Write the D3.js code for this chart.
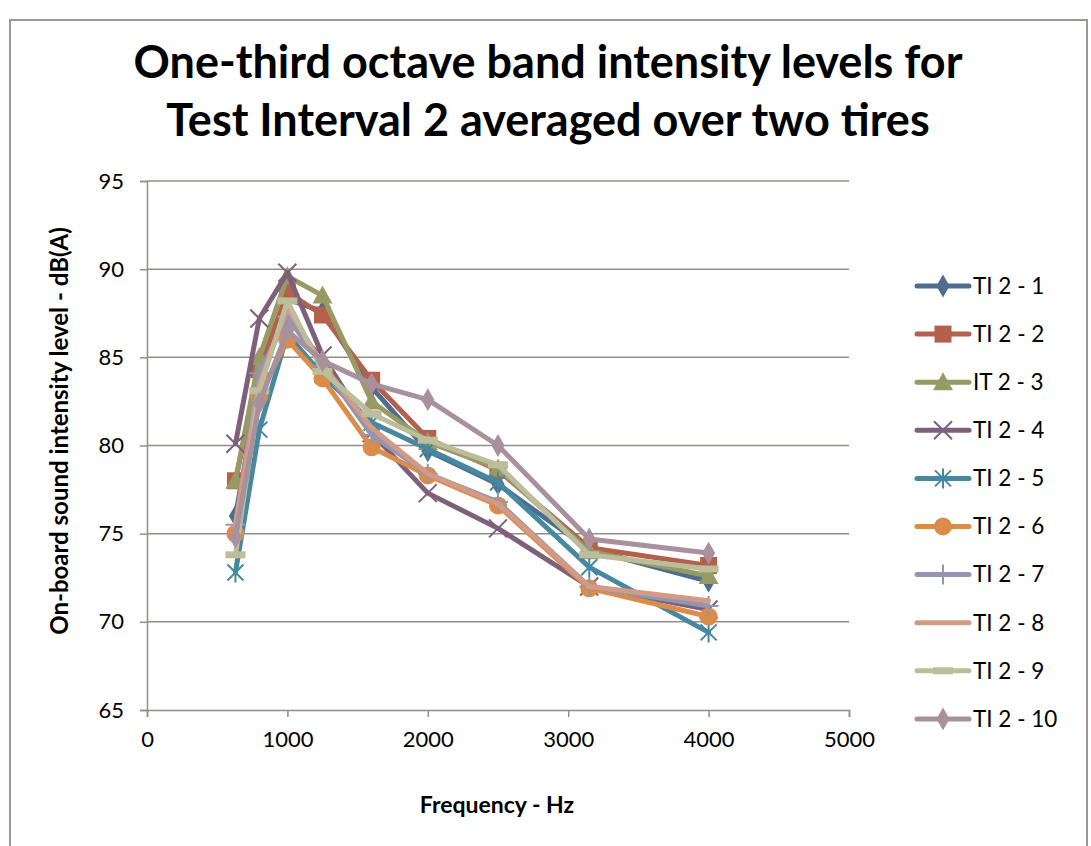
<!DOCTYPE html>
<html>
<head>
<meta charset="utf-8">
<script src="https://cdn.jsdelivr.net/npm/d3@7"></script>
<style>
  body { margin: 0; background: #fff; }
  svg text { font-family: Lato, "Open Sans", sans-serif; fill: #000; }
</style>
</head>
<body>
<div id="chart"></div>
<script>
// one-third octave band centre frequencies (Hz)
const freqs = [630, 800, 1000, 1250, 1600, 2000, 2500, 3150, 4000];

const seriesNames = ["TI 2 - 1", "TI 2 - 2", "IT 2 - 3", "TI 2 - 4", "TI 2 - 5",
                     "TI 2 - 6", "TI 2 - 7", "TI 2 - 8", "TI 2 - 9", "TI 2 - 10"];

// levels in dB(A)
const ti1  = [76.0, 83.5, 88.3, 87.6, 83.3, 79.7, 77.8, 74.1, 72.3];
const ti2  = [78.0, 84.3, 88.7, 87.4, 83.7, 80.4, 78.6, 74.2, 73.2];
const ti3  = [78.0, 85.0, 89.6, 88.5, 82.5, 80.2, 78.7, 74.0, 72.6];
const ti4  = [80.1, 87.2, 89.8, 85.1, 80.7, 77.3, 75.3, 72.0, 70.7];
const ti5  = [72.8, 80.9, 86.3, 84.0, 81.3, 79.8, 77.9, 73.1, 69.4];
const ti6  = [75.0, 82.8, 86.0, 83.8, 79.9, 78.3, 76.6, 71.9, 70.3];
const ti7  = [75.5, 84.1, 87.3, 84.5, 80.6, 78.4, 76.8, 72.0, 70.9];
const ti8  = [75.5, 83.5, 87.8, 84.6, 81.0, 78.4, 76.7, 72.0, 71.2];
const ti9  = [73.8, 83.1, 88.2, 84.2, 81.8, 80.3, 78.9, 73.8, 73.0];
const ti10 = [74.8, 82.4, 86.5, 84.8, 83.5, 82.6, 80.0, 74.7, 73.9];

const allSeries = [ti1, ti2, ti3, ti4, ti5, ti6, ti7, ti8, ti9, ti10];

const xTicks = [0, 1000, 2000, 3000, 4000, 5000];
const yTicks = [65, 70, 75, 80, 85, 90, 95];

const colors = ["#4f6d8f", "#b5604c", "#979a63", "#7f607b", "#45889f",
                "#db8c48", "#9396b3", "#d39a86", "#bbbd9b", "#a8909d"];
const markers = ["diamond", "square", "triangle", "x", "star",
                 "circle", "plus", "none", "dash", "diamond"];

const w = 1091, h = 846;
const padL = 147, padR = 849, padT = 181, padB = 710;

const svg = d3.select("#chart").append("svg")
  .attr("width", w).attr("height", h);

// outer chart border
svg.append("rect")
  .attr("x", 10).attr("y", 20)
  .attr("width", 1077).attr("height", 840)
  .attr("fill", "none")
  .attr("stroke", "#a19494")
  .attr("stroke-width", 2);

const x = d3.scaleLinear().domain([0, 5000]).range([padL, padR]);
const y = d3.scaleLinear().domain([65, 95]).range([padB, padT]);

// gridlines
svg.append("g").selectAll("line")
  .data(yTicks.filter(d => d > 65))
  .enter().append("line")
  .attr("x1", padL).attr("x2", padR)
  .attr("y1", d => y(d)).attr("y2", d => y(d))
  .attr("stroke", "#978a8a")
  .attr("stroke-width", 1.5);

const axisCol = "#978a8a";

const xAxis = d3.axisBottom(x).tickValues(xTicks).tickSize(7).tickPadding(14)
  .tickFormat(d3.format("d"));
const yAxis = d3.axisLeft(y).tickValues(yTicks).tickSize(7).tickPadding(16);

const gx = svg.append("g")
  .attr("transform", "translate(0," + padB + ")")
  .call(xAxis);
const gy = svg.append("g")
  .attr("transform", "translate(" + padL + ",0)")
  .call(yAxis);

[gx, gy].forEach(g => {
  g.select(".domain").attr("stroke", axisCol).attr("stroke-width", 1.5);
  g.selectAll(".tick line").attr("stroke", axisCol).attr("stroke-width", 1.5);
  g.selectAll(".tick text")
    .style("font-family", "Lato, sans-serif")
    .style("font-size", "22px")
    .attr("fill", "#000");
});

// marker drawing
function drawMarker(g, type, col) {
  if (type === "diamond") {
    g.append("path").attr("d", d3.symbol(d3.symbolDiamond, 150)())
      .attr("fill", col);
  } else if (type === "square") {
    g.append("rect").attr("x", -8.5).attr("y", -8.5)
      .attr("width", 17).attr("height", 17).attr("fill", col);
  } else if (type === "triangle") {
    g.append("path").attr("d", "M0,-10L10,8L-10,8Z").attr("fill", col);
  } else if (type === "circle") {
    g.append("circle").attr("r", 9).attr("fill", col);
  } else if (type === "x") {
    g.append("path").attr("d", "M-9,-9L9,9M-9,9L9,-9")
      .attr("stroke", col).attr("stroke-width", 2);
  } else if (type === "star") {
    g.append("path").attr("d", "M-8,-8L8,8M-8,8L8,-8M0,-10L0,10")
      .attr("stroke", col).attr("stroke-width", 2);
  } else if (type === "plus") {
    g.append("path").attr("d", "M0,-10L0,10M-10,0L10,0")
      .attr("stroke", col).attr("stroke-width", 2);
  } else if (type === "dash") {
    g.append("rect").attr("x", -10).attr("y", -3.5)
      .attr("width", 20).attr("height", 7).attr("fill", col);
  }
}

const line = d3.line()
  .x((d, i) => x(freqs[i]))
  .y(d => y(d));

allSeries.forEach((vals, s) => {
  const g = svg.append("g");
  g.append("path")
    .attr("d", line(vals))
    .attr("fill", "none")
    .attr("stroke", colors[s])
    .attr("stroke-width", 5)
    .attr("stroke-linejoin", "round")
    .attr("stroke-linecap", "round");
  vals.forEach((v, i) => {
    const m = g.append("g")
      .attr("transform", "translate(" + x(freqs[i]) + "," + y(v) + ")");
    drawMarker(m, markers[s], colors[s]);
  });
});

// legend
const lg = svg.append("g");
seriesNames.forEach((name, s) => {
  const ly = 286 + s * 48.1;
  const item = lg.append("g").attr("transform", "translate(0," + ly + ")");
  item.append("line")
    .attr("x1", 917).attr("x2", 969)
    .attr("y1", 0).attr("y2", 0)
    .attr("stroke", colors[s])
    .attr("stroke-width", 5)
    .attr("stroke-linecap", "round");
  const m = item.append("g").attr("transform", "translate(943,0)");
  drawMarker(m, markers[s], colors[s]);
  item.append("text")
    .attr("x", 973).attr("y", 0)
    .attr("dy", "0.35em")
    .style("font-size", "22.5px")
    .text(name);
});

// titles
const title = svg.append("text")
  .attr("text-anchor", "middle")
  .style("font-size", "45px")
  .style("font-weight", "bold");
title.append("tspan").attr("x", 548).attr("y", 78).text("One-third octave band intensity levels for");
title.append("tspan").attr("x", 548).attr("y", 136).text("Test Interval 2 averaged over two tires");

svg.append("text")
  .attr("x", 497).attr("y", 813)
  .attr("text-anchor", "middle")
  .style("font-size", "23px")
  .style("font-weight", "bold")
  .text("Frequency - Hz");

svg.append("text")
  .attr("transform", "translate(68,431) rotate(-90)")
  .attr("text-anchor", "middle")
  .style("font-size", "24px")
  .style("font-weight", "bold")
  .text("On-board sound intensity level - dB(A)");
</script>
</body>
</html>
